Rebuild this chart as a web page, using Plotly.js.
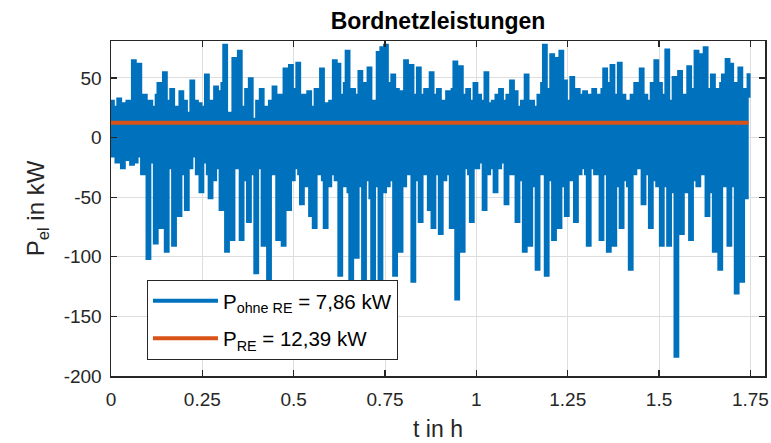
<!DOCTYPE html>
<html>
<head>
<meta charset="utf-8">
<script src="https://cdn.plot.ly/plotly-3.0.1.min.js"></script>
<style>html,body{margin:0;padding:0;background:#fff;}#chart{width:771px;height:443px;}</style>
</head>
<body>
<div id="chart"></div>
<script>
// sampling step of the power profile in hours
const tStep = 0.005;
// P_ohne RE in kW
const pOhneRE = [
  30, -15, 25, -20, 32, -10, -25, 28, -18, 30,
  -12, -22, 64, -20, 25, 61, -15, -30, 35, -25,
  -101, 30, -20, 25, -88, 35, 45, -75, 20, 54,
  -95, 30, -25, 40, -90, 25, -20, -65, 38, -30,
  30, -60, 20, -25, 47, -15, 30, -30, 28, -45,
  25, -20, 52, -30, -50, 30, -35, 42, -25, 38,
  -60, 45, 77, -95, 20, -30, -85, 66, -25, 30,
  72, -85, 25, -35, 40, -70, 49, -30, 15, -113,
  30, -25, 40, -90, 25, -40, -137, 30, -30, 42,
  -25, -85, 35, -30, -90, 57, -20, -60, 60, -35,
  40, -25, 62, -30, -55, 35, -40, 10, 38, -65,
  25, -75, 40, -30, 15, 57, -35, -75, 28, -40,
  30, -30, 64, -35, 61, -115, 35, -40, 45, 72,
  -45, -125, 40, -30, -100, 35, 55, -40, -138, 45,
  -35, 58, -50, -145, 30, -40, 71, -120, 75, -45,
  77, -40, 45, -35, 52, -115, 40, -30, -95, 38,
  -40, 64, -30, 45, 60, -120, 35, -35, 58, -70,
  35, -30, 40, -25, -60, 54, -75, 35, -30, 40,
  -80, 30, -35, 20, 38, -30, -75, 40, 63, -135,
  30, 59, -95, 35, -25, 40, -30, -70, 30, 45,
  -25, 35, -20, 30, -60, 54, -30, 28, -25, 30,
  -45, 35, -25, 40, -20, 30, -55, 35, -30, 47,
  -30, 38, -70, 25, -35, 30, -95, 52, -40, -90,
  30, -40, 25, -110, 35, -30, 45, 77, -115, 40,
  -35, 69, -85, 30, 66, -75, 72, -40, 47, -65,
  30, -35, 50, -25, -70, 40, -30, 35, -25, 38,
  -30, -90, 35, -25, 40, -30, 35, -20, -85, 40,
  57, -30, -95, 45, 60, -90, 35, -40, 62, -75,
  35, -35, 30, -40, -110, 35, -30, 45, -25, 40,
  57, -55, 35, -30, 30, -75, 45, -35, 64, -40,
  45, -90, 35, -40, 73, -90, 30, -45, 50, -183,
  40, 55, -80, 35, -45, 30, 59, -85, 40, -35,
  72, -40, 69, -30, 35, 75, -65, 40, -45, 52,
  -95, 40, -35, -110, 45, 52, -40, 65, -90, 61,
  -40, 45, -130, 35, 58, -120, 40, -50, 35, 54
];
// P_RE constant mean value in kW
const pRE = 12.39;
const legendNames = ["P<sub>ohne RE</sub> = 7,86 kW", "P<sub>RE</sub> = 12,39 kW"];
const xTicks = [0, 0.25, 0.5, 0.75, 1, 1.25, 1.5, 1.75];
const xTickText = ["0", "0.25", "0.5", "0.75", "1", "1.25", "1.5", "1.75"];
const yTicks = [-200, -150, -100, -50, 0, 50];
const yTickText = ["-200", "-150", "-100", "-50", "0", "50"];

const tVals = pOhneRE.map((_, i) => +(i * tStep).toFixed(4));
const tEnd = tVals[tVals.length - 1];

const font = "'Liberation Sans', Arial, Helvetica, sans-serif";
const axisCol = "#262626";

const traces = [
  {x: tVals, y: pOhneRE, type: "scatter", mode: "lines", name: legendNames[0],
   legendgroup: "a", line: {color: "#0072BD", width: 4, shape: "hv"}},
  {x: [0, tEnd], y: [pRE, pRE], type: "scatter", mode: "lines", name: legendNames[1],
   legendgroup: "b", line: {color: "#D95319", width: 4}}
];

const common = {
  showline: true, mirror: "allticks", linecolor: axisCol, linewidth: 1.5,
  ticks: "inside", ticklen: 6, tickwidth: 1.2, tickcolor: axisCol,
  showgrid: true, gridcolor: "#dedede", gridwidth: 1, zeroline: false,
  tickfont: {family: font, size: 19, color: axisCol}
};

const layout = {
  width: 771, height: 443,
  margin: {l: 111, r: 6, t: 41, b: 67},
  paper_bgcolor: "#ffffff", plot_bgcolor: "#ffffff",
  title: {text: "<b>Bordnetzleistungen</b>", font: {family: font, size: 23, color: "#000"},
          x: 0.5, xref: "paper", xanchor: "center", y: 0.952, yref: "container", yanchor: "middle"},
  xaxis: Object.assign({}, common, {
    range: [0, 1.79], tickmode: "array", tickvals: xTicks, ticktext: xTickText,
    title: {text: "t in h", font: {family: font, size: 23, color: axisCol}, standoff: 11},
    ticklabelstandoff: 6
  }),
  yaxis: Object.assign({}, common, {
    range: [-200, 81], tickmode: "array", tickvals: yTicks, ticktext: yTickText,
    title: {text: "P<sub>el</sub> in kW", font: {family: font, size: 24, color: axisCol}, standoff: 12},
    ticklabelstandoff: 4
  }),
  showlegend: true,
  legend: {x: 0.055, y: 0.287, xanchor: "left", yanchor: "top",
           bgcolor: "#ffffff", bordercolor: axisCol, borderwidth: 1,
           font: {family: font, size: 20.5, color: "#000"}, itemwidth: 65,
           traceorder: "grouped", tracegroupgap: 8}
};

Plotly.newPlot("chart", traces, layout, {displayModeBar: false, staticPlot: true});
</script>
</body>
</html>
